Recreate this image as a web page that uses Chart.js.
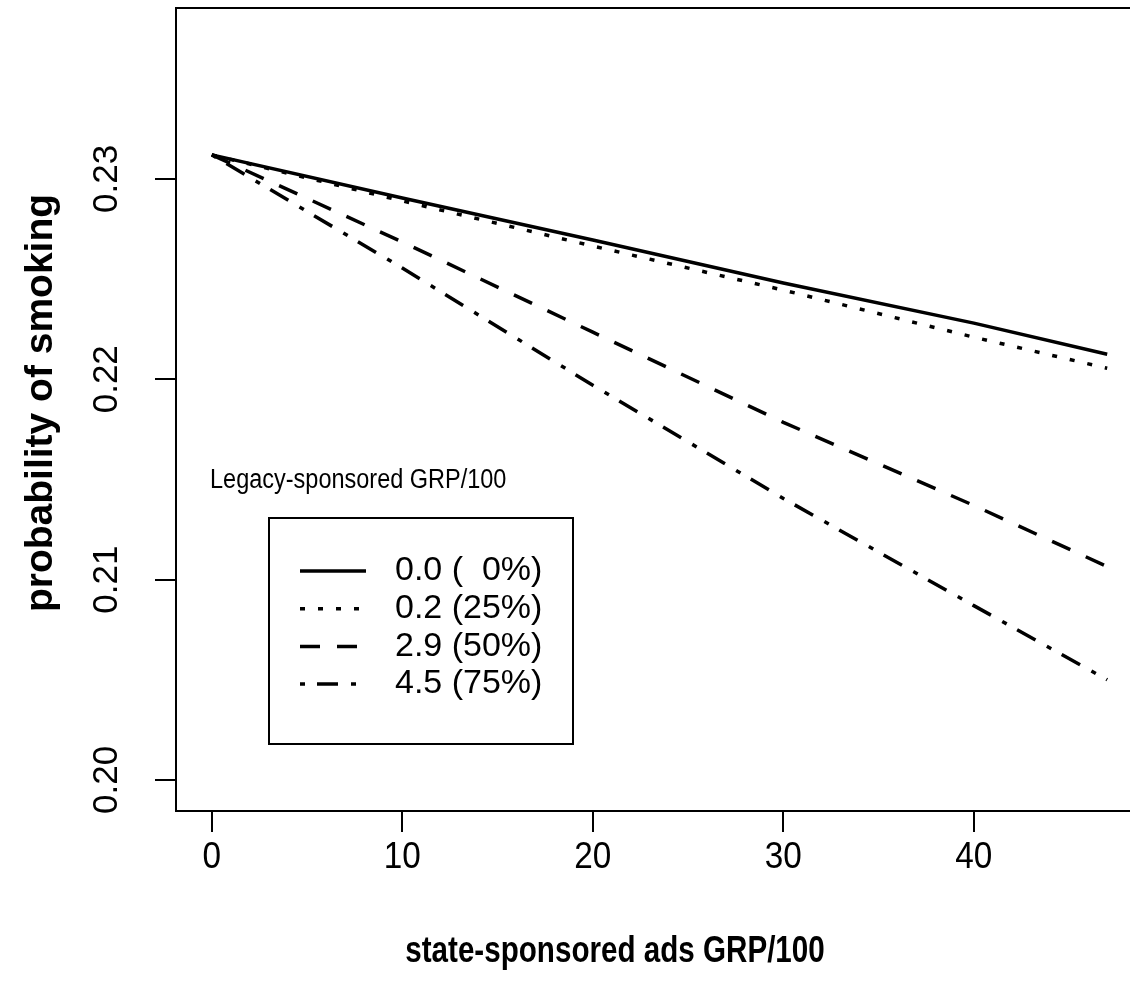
<!DOCTYPE html>
<html lang="en">
<head>
<meta charset="UTF-8">
<title>Probability of smoking by state-sponsored ads</title>
<script src="https://cdn.jsdelivr.net/npm/chart.js"></script>
<style>
    html, body { margin: 0; padding: 0; background: #fff; overflow: hidden; }
    #wrap { width: 1150px; height: 995px; }
</style>
</head>
<body>
<div id="wrap"><canvas id="chart" width="1150" height="995"></canvas></div>
<script>
    // state-sponsored ads GRP/100 (x values)
    const grp = [0, 10, 20, 30, 40, 47];

    // probability of smoking, one array per Legacy-sponsored level
    const legacy0 = [0.2312, 0.22905, 0.22695, 0.2248, 0.2228, 0.22125];
    const legacy25 = [0.2312, 0.2289, 0.22665, 0.22445, 0.2221, 0.22055];
    const legacy50 = [0.2312, 0.22685, 0.22235, 0.21785, 0.2137, 0.21065];
    const legacy75 = [0.2312, 0.22555, 0.2197, 0.21405, 0.2087, 0.2050];

    const seriesLabels = ['0.0 (  0%)', '0.2 (25%)', '2.9 (50%)', '4.5 (75%)'];
    const xTicks = [0, 10, 20, 30, 40];
    const yTicks = [0.20, 0.21, 0.22, 0.23];
    const xTitle = 'state-sponsored ads GRP/100';
    const yTitle = 'probability of smoking';
    const legendTitle = 'Legacy-sponsored GRP/100';

    const FONT = '"Liberation Sans", Arial, sans-serif';

    function toPoints(ys) {
        return ys.map((y, i) => ({ x: grp[i], y: y }));
    }

    function drawText(ctx, str, x, y, font, sx, rot, align) {
        ctx.save();
        ctx.translate(x, y);
        if (rot) ctx.rotate(rot);
        ctx.scale(sx, 1);
        ctx.font = font;
        ctx.fillStyle = '#000';
        ctx.textAlign = align || 'center';
        ctx.textBaseline = 'middle';
        ctx.fillText(str, 0, 0);
        ctx.restore();
    }

    // box, tick labels, titles and legend in the R base-graphics look
    const rDecor = {
        id: 'rDecor',
        afterDraw(chart) {
            const ctx = chart.ctx;
            const a = chart.chartArea;
            const xs = chart.scales.x;
            const ys = chart.scales.y;

            ctx.save();
            ctx.strokeStyle = '#000';
            ctx.lineWidth = 2;
            ctx.strokeRect(a.left, a.top, a.right - a.left, a.bottom - a.top);
            ctx.restore();

            xTicks.forEach(v => {
                drawText(ctx, String(v), xs.getPixelForValue(v), 858, '37px ' + FONT, 0.9);
            });
            yTicks.forEach(v => {
                drawText(ctx, v.toFixed(2), 107, ys.getPixelForValue(v), '35px ' + FONT, 1, -Math.PI / 2);
            });

            drawText(ctx, xTitle, 615, 952, 'bold 37px ' + FONT, 0.8);
            drawText(ctx, yTitle, 41, 403, 'bold 39px ' + FONT, 1, -Math.PI / 2);

            // legend
            drawText(ctx, legendTitle, 210, 481, '27px ' + FONT, 0.87, 0, 'left');
            ctx.save();
            ctx.strokeStyle = '#000';
            ctx.lineWidth = 2;
            ctx.strokeRect(269, 518, 304, 226);
            ctx.restore();
            chart.data.datasets.forEach((ds, i) => {
                const ry = 571 + i * 37.7;
                ctx.save();
                ctx.strokeStyle = '#000';
                ctx.lineWidth = ds.borderWidth;
                ctx.setLineDash(ds.borderDash || []);
                ctx.beginPath();
                ctx.moveTo(300, ry);
                ctx.lineTo(366, ry);
                ctx.stroke();
                ctx.restore();
                drawText(ctx, seriesLabels[i], 395, ry, '34px ' + FONT, 1, 0, 'left');
            });
        }
    };

    const tickGrid = {
        display: true,
        drawOnChartArea: false,
        drawTicks: true,
        tickLength: 21,
        color: '#000',
        lineWidth: 2
    };

    new Chart(document.getElementById('chart'), {
        type: 'line',
        data: {
            datasets: [
                { label: seriesLabels[0], data: toPoints(legacy0), borderDash: [] },
                { label: seriesLabels[1], data: toPoints(legacy25), borderDash: [5, 13] },
                { label: seriesLabels[2], data: toPoints(legacy50), borderDash: [20, 17] },
                { label: seriesLabels[3], data: toPoints(legacy75), borderDash: [5, 12, 21, 13] }
            ].map(ds => Object.assign(ds, {
                borderColor: '#000',
                borderWidth: 3.5,
                pointRadius: 0,
                tension: 0,
                fill: false
            }))
        },
        options: {
            responsive: false,
            devicePixelRatio: 1,
            animation: false,
            layout: { padding: { top: 8, right: 7, left: 0, bottom: 0 } },
            plugins: {
                legend: { display: false },
                tooltip: { enabled: false }
            },
            scales: {
                x: {
                    type: 'linear',
                    min: -1.88,
                    max: 48.88,
                    grid: tickGrid,
                    border: { display: false },
                    ticks: { display: false },
                    afterBuildTicks: s => { s.ticks = xTicks.map(v => ({ value: v })); },
                    afterFit: s => { s.height = 184; }
                },
                y: {
                    type: 'linear',
                    min: 0.19845,
                    max: 0.23853,
                    grid: tickGrid,
                    border: { display: false },
                    ticks: { display: false },
                    afterBuildTicks: s => { s.ticks = yTicks.map(v => ({ value: v })); },
                    afterFit: s => { s.width = 176; }
                }
            }
        },
        plugins: [rDecor]
    });
</script>
</body>
</html>
